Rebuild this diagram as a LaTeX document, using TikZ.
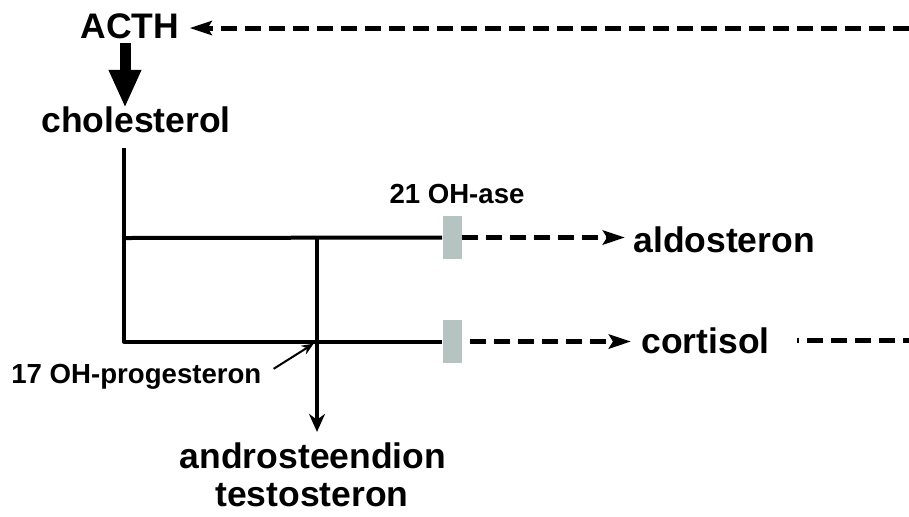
\documentclass[tikz,border=0pt]{standalone}
\usepackage{fontspec}
\setmainfont{Liberation Sans}
\usetikzlibrary{arrows.meta}
\definecolor{blockgray}{HTML}{B5C4C1}
\def\bigfont{\fontsize{17.75}{20}\selectfont\bfseries}
\def\smallfont{\fontsize{13.8}{16}\selectfont\bfseries}
\tikzstyle{hormone} = [inner sep=0pt,
anchor=base,
font=\bigfont]
\tikzstyle{tag} = [inner sep=0pt,
anchor=base,
font=\smallfont]
\tikzstyle{enzyme} = [rectangle,
minimum width=9.5pt,
minimum height=21.5pt,
inner sep=0pt,
fill=blockgray]
\tikzstyle{route} = [line width=2pt, line join=round]
\tikzstyle{feedback} = [line width=2.5pt, dash pattern=on 8pt off 4pt]
\tikzstyle{fbarrow} = [feedback, -{Stealth[length=11pt,width=7pt,inset=2pt]}]

\begin{document}
\begin{tikzpicture}[x=0.5pt, y=-0.5pt]
    \useasboundingbox (0,0) rectangle (909,516);
    %%%%%%%%%%%%%%%%%%%%%%%%%%%%%%%%%%%%%%%%
    % Hormones
    %%%%%%%%%%%%%%%%%%%%%%%%%%%%%%%%%%%%%%%%
    \node (acth) [hormone] at (130,38) {ACTH};
    \node (chol) [hormone] at (136,132) {cholesterol};
    \node (aldo) [hormone, anchor=base west] at (633,252) {aldosteron};
    \node (cort) [hormone, anchor=base west] at (641,353) {cortisol};
    \node (andro) [hormone] at (313,468) {androsteendion};
    \node (testo) [hormone] at (312,506) {testosteron};
    %%%%%%%%%%%%%%%%%%%%%%%%%%%%%%%%%%%%%%%%
    % Enzymes
    %%%%%%%%%%%%%%%%%%%%%%%%%%%%%%%%%%%%%%%%
    \node (blkA) [enzyme] at (452,237.5) {};
    \node (blkB) [enzyme] at (452,341.5) {};
    \node (ohase) [tag] at (457,203) {21 OH-ase};
    \node (prog) [tag, anchor=base west] at (11,383) {17 OH-progesteron};
    %%%%%%%%%%%%%%%%%%%%%%%%%%%%%%%%%%%%%%%%
    % Branch points
    %%%%%%%%%%%%%%%%%%%%%%%%%%%%%%%%%%%%%%%%
    \coordinate (top) at (124,148);
    \coordinate (upjoin) at (124,238);
    \coordinate (lowjoin) at (124,341.5);
    \coordinate (cross) at (317,238);
    \coordinate (midjoin) at (317,341.5);
    \coordinate (fbtop) at (909,28);
    \coordinate (fbend) at (909,343);
    \draw [line width=5.5pt, -{Triangle[length=19pt,width=15pt]}, shorten <=2pt, shorten >=-1pt] ([xshift=-2.5pt]acth.south) -- ([xshift=-2.5pt]acth.south |- chol.north);
    \draw [route] (top) -- (lowjoin) -- (blkB.west);
    \draw [route] (upjoin) -- (blkA.west);
    \draw [route, -{Stealth[length=9pt,width=8pt]}, shorten >=5pt] (cross) -- (cross |- andro.north);
    \draw [line width=1pt, -{Stealth[length=6pt,width=5pt]}, shorten <=7pt, shorten >=2pt] (prog.east) -- (midjoin);
    \draw [fbarrow, shorten >=4pt] (blkA.east) -- (blkA.east -| aldo.west);
    \draw [fbarrow, shorten <=4pt, shorten >=5pt] (blkB.east) -- (blkB.east -| cort.west);
    \draw [feedback, dash phase=7pt, shorten <=13.5pt] (cort.east) -- (cort.east -| fbend);
    \draw [fbarrow, shorten >=5pt] (fbtop) -- (fbtop -| acth.east);
\end{tikzpicture}
\end{document}
